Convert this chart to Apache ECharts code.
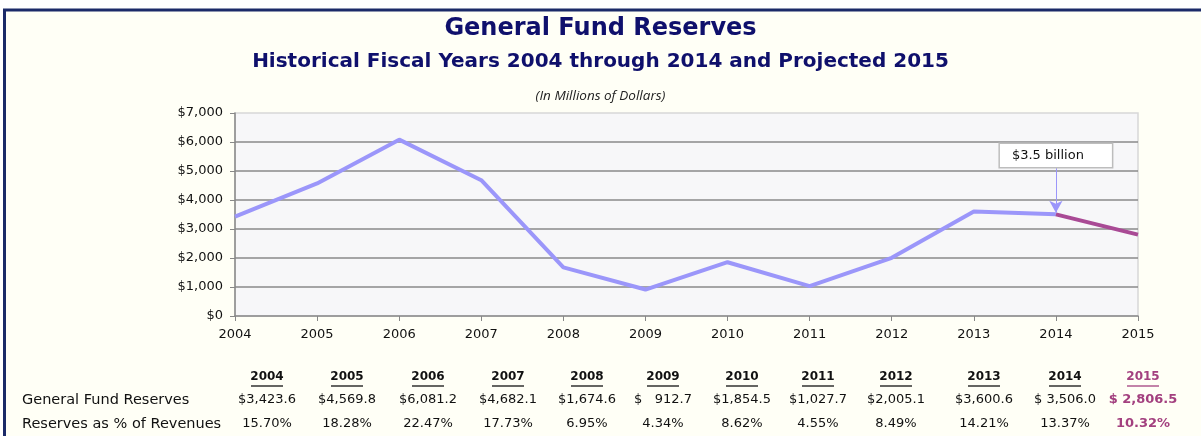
<!DOCTYPE html>
<html><head><meta charset="utf-8">
<script src="https://cdn.jsdelivr.net/npm/echarts@6/dist/echarts.min.js"></script>
<style>html,body{margin:0;padding:0;background:#FFFFFF;}#c{width:1201px;height:436px;}</style>
</head><body><div id="c"></div>
<script>
var years = ['2004','2005','2006','2007','2008','2009','2010','2011','2012','2013','2014','2015'];
var reserves = [3423.6, 4569.8, 6081.2, 4682.1, 1674.6, 912.7, 1854.5, 1027.7, 2005.1, 3600.6, 3506.0, 2806.5];
var reserveLabels = ['$3,423.6','$4,569.8','$6,081.2','$4,682.1','$1,674.6','$   912.7','$1,854.5','$1,027.7','$2,005.1','$3,600.6','$ 3,506.0','$ 2,806.5'];
var pctLabels = ['15.70%','18.28%','22.47%','17.73%','6.95%','4.34%','8.62%','4.55%','8.49%','14.21%','13.37%','10.32%'];
var rowLabels = ['General Fund Reserves', 'Reserves as % of Revenues'];
var annotationText = '$3.5 billion';

var chart = echarts.init(document.getElementById('c'), null, {renderer:'canvas'});
var histData = reserves.map(function(v,i){ return i <= 10 ? v : '-'; });
var projData = reserves.map(function(v,i){ return i >= 10 ? v : '-'; });

var F = '"DejaVu Sans", sans-serif';
var colX = [267,347,428,508,587,663,742,818,896,984,1065,1143];
var graphics = [
  {type:'rect', shape:{x:4.5,y:10,width:1300,height:500}, style:{fill:'#FFFFF6', stroke:'#1B2A68', lineWidth:3}, z:-100, silent:true},
  {type:'text', x:22, y:400, style:{text:rowLabels[0], font:'14.5px ' + F, fill:'#111', textVerticalAlign:'middle'}},
  {type:'text', x:22, y:424, style:{text:rowLabels[1], font:'14.5px ' + F, fill:'#111', textVerticalAlign:'middle'}}
];
years.forEach(function(y,i){
  var last = i === years.length-1;
  var col = last ? '#A3407F' : '#111';
  graphics.push({type:'text', x:colX[i], y:377, style:{text:y, font:'bold 12px ' + F, fill:col, textAlign:'center', textVerticalAlign:'middle'}});
  graphics.push({type:'line', shape:{x1:colX[i]-16, y1:386, x2:colX[i]+16, y2:386}, style:{stroke:col, lineWidth:1.3}});
  graphics.push({type:'text', x:colX[i], y:400, style:{text:reserveLabels[i], font:(last?'bold ':'')+'13px ' + F, fill:col, textAlign:'center', textVerticalAlign:'middle'}});
  graphics.push({type:'text', x:colX[i], y:424, style:{text:pctLabels[i], font:(last?'bold ':'')+'13px ' + F, fill:col, textAlign:'center', textVerticalAlign:'middle'}});
});

chart.setOption({
  backgroundColor:'#FFFFFF',
  animation:false,
  title:[
    {text:'General Fund Reserves', left:'center', top:12, textStyle:{fontFamily:F, fontSize:24, fontWeight:'bold', color:'#0F106C'}},
    {text:'Historical Fiscal Years 2004 through 2014 and Projected 2015', left:'center', top:47, textStyle:{fontFamily:F, fontSize:20, fontWeight:'bold', color:'#0F106C'}},
    {text:'(In Millions of Dollars)', left:'center', top:84, textStyle:{fontFamily:'"Open Sans", sans-serif', fontSize:13.5, fontStyle:'italic', fontWeight:'normal', color:'#222'}}
  ],
  grid:{left:235, right:63, top:113, bottom:120, show:true, backgroundColor:'#F7F7F9', borderColor:'#D8D8D8', borderWidth:1.5},
  xAxis:{type:'category', data:years, boundaryGap:false,
    axisLine:{lineStyle:{color:'#888', width:1.5}}, axisTick:{show:true, length:5, lineStyle:{color:'#888'}},
    axisLabel:{color:'#111', fontSize:13, fontFamily:F, margin:12}},
  yAxis:{type:'value', min:0, max:7000, interval:1000,
    axisLine:{show:true, lineStyle:{color:'#888', width:1.5}}, axisTick:{show:true, length:5, lineStyle:{color:'#888'}},
    splitLine:{showMaxLine:false, showMinLine:false, lineStyle:{color:'#8A8A8A', width:1.5}},
    axisLabel:{color:'#111', fontSize:13, fontFamily:F, margin:12, formatter:function(v){ return '$' + v.toLocaleString('en-US'); }}},
  series:[
    {type:'line', data:histData, symbol:'none', lineStyle:{color:'#9B96FA', width:4}, z:2,
      markLine:{silent:true, symbol:['none','arrow'], symbolSize:[10,12],
        lineStyle:{color:'#9B96FA', width:1, type:'solid'},
        label:{show:true, position:'start', formatter:annotationText, backgroundColor:'#FFFFFF', borderColor:'#BDBDBD', borderWidth:1.5, padding:[5,28,5,12], color:'#111', fontSize:13, fontFamily:F, distance:0},
        data:[[{coord:['2014', 5140]},{coord:['2014', 3560]}]]}},
    {type:'line', data:projData, symbol:'none', lineStyle:{color:'#A94A95', width:4}, z:3}
  ],
  graphic:graphics
});
</script></body></html>
